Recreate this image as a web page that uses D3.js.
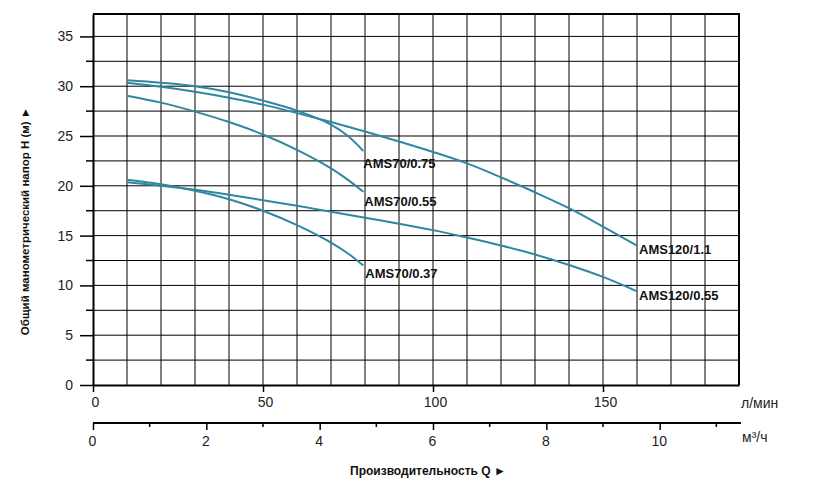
<!DOCTYPE html>
<html>
<head>
<meta charset="utf-8">
<script src="https://cdnjs.cloudflare.com/ajax/libs/d3/7.8.5/d3.min.js"></script>
<style>
    body { margin: 0; background: #fff; }
    svg { font-family: "Liberation Sans", Arial, sans-serif; }
    .grid line { stroke: #000; stroke-width: 1; }
    .axis path, .axis line { stroke: #000; }
    .axis text { font-size: 14px; fill: #222; }
    path.curve { fill: none; stroke: #2f87a0; stroke-width: 2; }
    text.lbl { font-size: 13px; font-weight: bold; fill: #111; }
    text.title { font-size: 11.5px; font-weight: bold; fill: #111; }
</style>
</head>
<body>
<svg id="chart" width="822" height="493"></svg>
<script>
// flow, l/min
var flow = [10, 20, 30, 40, 50, 60, 70, 80, 90, 100, 110, 120, 130, 140, 150, 160];
var flowShort = [10, 20, 30, 40, 50, 60, 70, 75, 79.5];

// head, m
var ams70_075 = [30.6, 30.35, 30.0, 29.4, 28.55, 27.55, 26.15, 25.0, 23.5];
var ams70_055 = [29.05, 28.35, 27.45, 26.4, 25.15, 23.6, 21.75, 20.6, 19.4];
var ams70_037 = [20.6, 20.15, 19.5, 18.65, 17.5, 16.05, 14.3, 13.2, 12.0];
var ams120_11 = [30.35, 29.95, 29.45, 28.85, 28.15, 27.3, 26.4, 25.45, 24.45, 23.4, 22.25, 20.85, 19.35, 17.75, 15.9, 14.0];
var ams120_055 = [20.35, 20.0, 19.6, 19.1, 18.55, 18.0, 17.4, 16.8, 16.2, 15.55, 14.8, 14.0, 13.1, 12.05, 10.85, 9.4];

var names = ["AMS70/0.75", "AMS70/0.55", "AMS70/0.37", "AMS120/1.1", "AMS120/0.55"];
var seriesQ = [flowShort, flowShort, flowShort, flow, flow];
var seriesH = [ams70_075, ams70_055, ams70_037, ams120_11, ams120_055];

var headTicks = [0, 5, 10, 15, 20, 25, 30, 35];
var flowTicks = [0, 50, 100, 150];
var m3Ticks = [0, 2, 4, 6, 8, 10];

// label offsets from curve end (styling)
var lblOffset = [[0, 17], [1, 14], [2, 13], [2, 8], [2, 9]];

var svg = d3.select("#chart");
var pLeft = 93, pRight = 739, pTop = 14, pBottom = 385;

var x = d3.scaleLinear().domain([0, 190]).range([pLeft, pRight]);
var y = d3.scaleLinear().domain([0, 37.25]).range([pBottom, pTop]);
var xm3 = d3.scaleLinear().domain([0, 190 * 0.06]).range([pLeft, pRight]);

// grid
var g = svg.append("g").attr("class", "grid");
g.selectAll("line.v")
    .data(d3.range(10, 190, 10))
    .enter().append("line")
    .attr("class", "v")
    .attr("x1", d => x(d)).attr("x2", d => x(d))
    .attr("y1", pTop).attr("y2", pBottom);
g.selectAll("line.h")
    .data(d3.range(2.5, 36, 2.5))
    .enter().append("line")
    .attr("class", "h")
    .attr("x1", pLeft).attr("x2", pRight)
    .attr("y1", d => y(d)).attr("y2", d => y(d));

// frame: top and right
svg.append("path")
    .attr("d", "M" + pLeft + "," + pTop + "H" + pRight + "V" + pBottom)
    .attr("fill", "none").attr("stroke", "#000").attr("stroke-width", 2);

// y axis
var yAxis = svg.append("g").attr("class", "axis")
    .attr("transform", "translate(" + pLeft + ",0)")
    .call(d3.axisLeft(y).tickValues(headTicks).tickSize(13).tickPadding(7).tickSizeOuter(0));
yAxis.select("path").attr("stroke-width", 2);
yAxis.selectAll("line").attr("stroke-width", 1.5);
yAxis.selectAll("line.minor")
    .data(d3.range(2.5, 36, 5))
    .enter().append("line")
    .attr("class", "minor")
    .attr("x1", -7).attr("x2", 0)
    .attr("y1", d => y(d)).attr("y2", d => y(d))
    .attr("stroke", "#000").attr("stroke-width", 1.5);

// x axis l/min
var xAxis = svg.append("g").attr("class", "axis")
    .attr("transform", "translate(0," + pBottom + ")")
    .call(d3.axisBottom(x).tickValues(flowTicks).tickSize(7).tickPadding(5).tickSizeOuter(0));
xAxis.select("path").attr("stroke-width", 2);
xAxis.selectAll("line").attr("stroke-width", 1.5);
xAxis.selectAll(".tick text").attr("dx", 2);

svg.append("text")
    .attr("x", pRight + 2).attr("y", 408)
    .style("font-size", "14px").style("fill", "#222")
    .text("л/мин");

// x axis m3/h
var m3y = 423;
var m3Axis = svg.append("g").attr("class", "axis")
    .attr("transform", "translate(0," + m3y + ")")
    .call(d3.axisBottom(xm3).tickValues(m3Ticks).tickSize(7).tickPadding(6).tickSizeOuter(0));
m3Axis.select("path").attr("stroke-width", 2)
    .attr("d", "M" + pLeft + ",0H" + (pRight + 2));
m3Axis.selectAll("line").attr("stroke-width", 1.5);
m3Axis.selectAll(".tick text").attr("dx", -1);
m3Axis.selectAll("line.minor")
    .data([1, 3, 5, 7, 9, 11])
    .enter().append("line")
    .attr("class", "minor")
    .attr("x1", d => xm3(d)).attr("x2", d => xm3(d))
    .attr("y1", 0).attr("y2", 4)
    .attr("stroke", "#000").attr("stroke-width", 1.5);

svg.append("text")
    .attr("x", pRight + 3).attr("y", 442)
    .style("font-size", "14px").style("fill", "#222")
    .text("м³/ч");

// curves
var line = d3.line()
    .x(d => x(d[0]))
    .y(d => y(d[1]))
    .curve(d3.curveCatmullRom.alpha(0.5));

var series = names.map(function(n, i) {
    return { name: n, pts: seriesQ[i].map((q, j) => [q, seriesH[i][j]]), off: lblOffset[i] };
});

svg.selectAll("path.curve")
    .data(series)
    .enter().append("path")
    .attr("class", "curve")
    .attr("d", d => line(d.pts));

svg.selectAll("text.lbl")
    .data(series)
    .enter().append("text")
    .attr("class", "lbl")
    .attr("x", d => x(d.pts[d.pts.length - 1][0]) + d.off[0])
    .attr("y", d => y(d.pts[d.pts.length - 1][1]) + d.off[1])
    .text(d => d.name);

// titles
svg.append("text").attr("class", "title")
    .attr("x", 350).attr("y", 475)
    .style("font-size", "12px")
    .text("Производительность Q  ►");

svg.append("text").attr("class", "title")
    .attr("transform", "translate(29,221) rotate(-90)")
    .attr("text-anchor", "middle")
    .text("Общий манометрический напор H (м)  ►");
</script>
</body>
</html>
